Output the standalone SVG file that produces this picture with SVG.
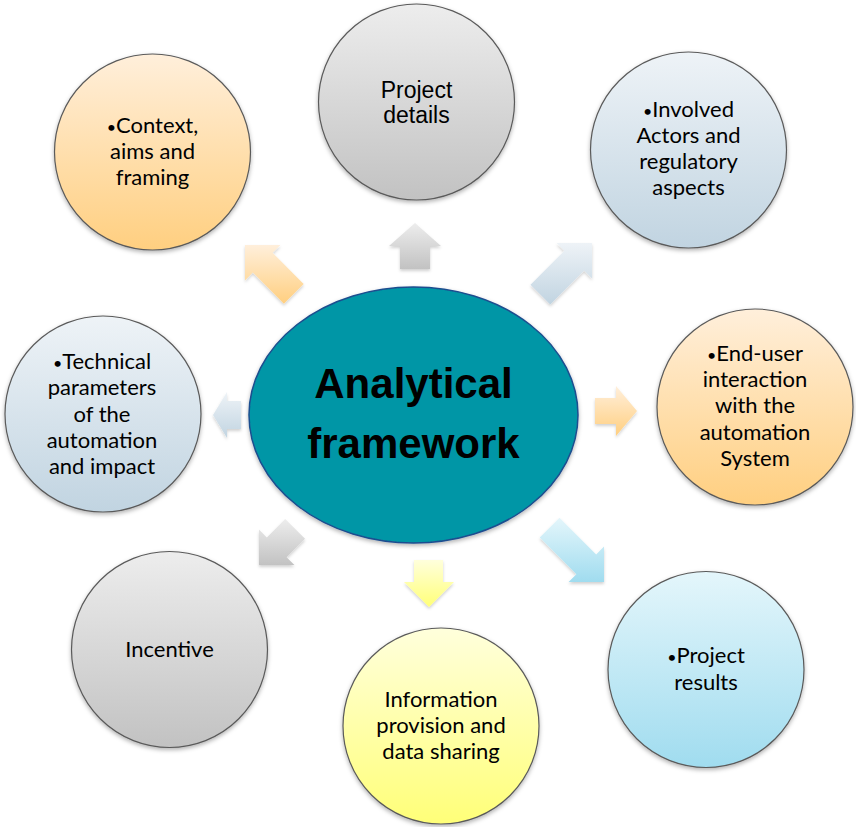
<svg xmlns="http://www.w3.org/2000/svg" width="856" height="827" viewBox="0 0 856 827">
<defs>
<linearGradient id="gOrange" x1="0" y1="0" x2="0" y2="1"><stop offset="0" stop-color="#FFEFDB"/><stop offset="1" stop-color="#FFCF80"/></linearGradient>
<linearGradient id="gGray" x1="0" y1="0" x2="0" y2="1"><stop offset="0" stop-color="#EDEDED"/><stop offset="1" stop-color="#C2C2C2"/></linearGradient>
<linearGradient id="gSteel" x1="0" y1="0" x2="0" y2="1"><stop offset="0" stop-color="#EEF3F7"/><stop offset="1" stop-color="#C1D4E1"/></linearGradient>
<linearGradient id="gYellow" x1="0" y1="0" x2="0" y2="1"><stop offset="0" stop-color="#FFFFDC"/><stop offset="1" stop-color="#FFFF78"/></linearGradient>
<linearGradient id="gSky" x1="0" y1="0" x2="0" y2="1"><stop offset="0" stop-color="#E4F6FB"/><stop offset="1" stop-color="#A0DCEF"/></linearGradient>
<filter id="sh" x="-20%" y="-20%" width="140%" height="140%"><feDropShadow dx="0" dy="2" stdDeviation="2" flood-color="#000" flood-opacity="0.3"/></filter>
<filter id="shA" x="-30%" y="-30%" width="160%" height="160%"><feDropShadow dx="0" dy="2" stdDeviation="1.5" flood-color="#000" flood-opacity="0.18"/></filter>
</defs>
<style>
.node circle{stroke:#5A5A5A;stroke-width:1.2;filter:url(#sh)}
.t{font-family:Lato,"Liberation Sans",sans-serif;font-size:22px;fill:#000;text-anchor:middle}
.b{font-size:16px}
.ta{font-family:"Liberation Sans",Arial,sans-serif;font-size:23px;fill:#000;text-anchor:middle}
.arrow{filter:url(#shA)}
</style>
<g id="connectors">
<polygon class="arrow" fill="url(#gGray)" points="415,223 441,246 430,246 430,269 400,269 400,246 389,246"/>
<polygon class="arrow" fill="url(#gOrange)" points="245,245 280.4,245 272.6,252.8 303.7,283.9 283.9,303.7 252.8,272.6 245,280.4"/>
<polygon class="arrow" fill="url(#gSteel)" points="592,243 592,278.4 584.2,270.6 550.3,304.5 530.5,284.7 564.4,250.8 556.6,243"/>
<polygon class="arrow" fill="url(#gSteel)" points="213,415 227,392 227,401 241,401 241,429 227,429 227,438"/>
<polygon class="arrow" fill="url(#gOrange)" points="637,411 616,386 616,398 595,398 595,424 616,424 616,436"/>
<polygon class="arrow" fill="url(#gGray)" points="259,565 294.4,565 286.6,557.2 305,538.8 285.2,519 266.8,537.4 259,529.6"/>
<polygon class="arrow" fill="url(#gYellow)" points="429,607 454,582 443,582 443,560 414,560 414,582 404,582"/>
<polygon class="arrow" fill="url(#gSky)" points="604,582 604,546.6 596.2,554.4 559.5,517.7 539.7,537.5 576.4,574.2 568.6,582"/>
</g>
<g id="center">
<ellipse cx="413.5" cy="415" rx="164.5" ry="128" fill="#0096A6" stroke="#1C4E8F" stroke-width="1.5" filter="url(#sh)"/>
<text x="413.5" y="398" font-family="'Liberation Sans',Arial,sans-serif" font-size="42" font-weight="bold" text-anchor="middle" fill="#000">Analytical</text>
<text x="413.5" y="458" font-family="'Liberation Sans',Arial,sans-serif" font-size="42" font-weight="bold" text-anchor="middle" fill="#000">framework</text>
</g>
<g id="context" class="node">
<circle cx="152.5" cy="152" r="98" fill="url(#gOrange)"/>
<text class="t" x="152.5" y="133"><tspan class="b">•</tspan>Context,</text>
<text class="t" x="152.5" y="159">aims and</text>
<text class="t" x="152.5" y="185">framing</text>
</g>
<g id="project-details" class="node">
<circle cx="416.5" cy="102" r="98" fill="url(#gGray)"/>
<text class="ta" x="416.5" y="98">Project</text>
<text class="ta" x="416.5" y="123">details</text>
</g>
<g id="actors" class="node">
<circle cx="688.5" cy="150" r="98" fill="url(#gSteel)"/>
<text class="t" x="688.5" y="117"><tspan class="b">•</tspan>Involved</text>
<text class="t" x="688.5" y="143">Actors and</text>
<text class="t" x="688.5" y="169">regulatory</text>
<text class="t" x="688.5" y="195">aspects</text>
</g>
<g id="technical" class="node">
<circle cx="103" cy="414" r="98" fill="url(#gSteel)"/>
<text class="t" x="102" y="369"><tspan class="b">•</tspan>Technical</text>
<text class="t" x="102" y="395">parameters</text>
<text class="t" x="102" y="422">of the</text>
<text class="t" x="102" y="448">automation</text>
<text class="t" x="102" y="474">and impact</text>
</g>
<g id="end-user" class="node">
<circle cx="755" cy="407" r="98" fill="url(#gOrange)"/>
<text class="t" x="755" y="361"><tspan class="b">•</tspan>End-user</text>
<text class="t" x="755" y="387">interaction</text>
<text class="t" x="755" y="413">with the</text>
<text class="t" x="755" y="440">automation</text>
<text class="t" x="755" y="466">System</text>
</g>
<g id="incentive" class="node">
<circle cx="169.5" cy="649.5" r="98" fill="url(#gGray)"/>
<text class="t" x="169.5" y="657">Incentive</text>
</g>
<g id="information" class="node">
<circle cx="441" cy="726" r="98" fill="url(#gYellow)"/>
<text class="t" x="441" y="707">Information</text>
<text class="t" x="441" y="733">provision and</text>
<text class="t" x="441" y="759">data sharing</text>
</g>
<g id="results" class="node">
<circle cx="706" cy="669.5" r="98" fill="url(#gSky)"/>
<text class="t" x="706" y="663"><tspan class="b">•</tspan>Project</text>
<text class="t" x="706" y="690">results</text>
</g>
</svg>
